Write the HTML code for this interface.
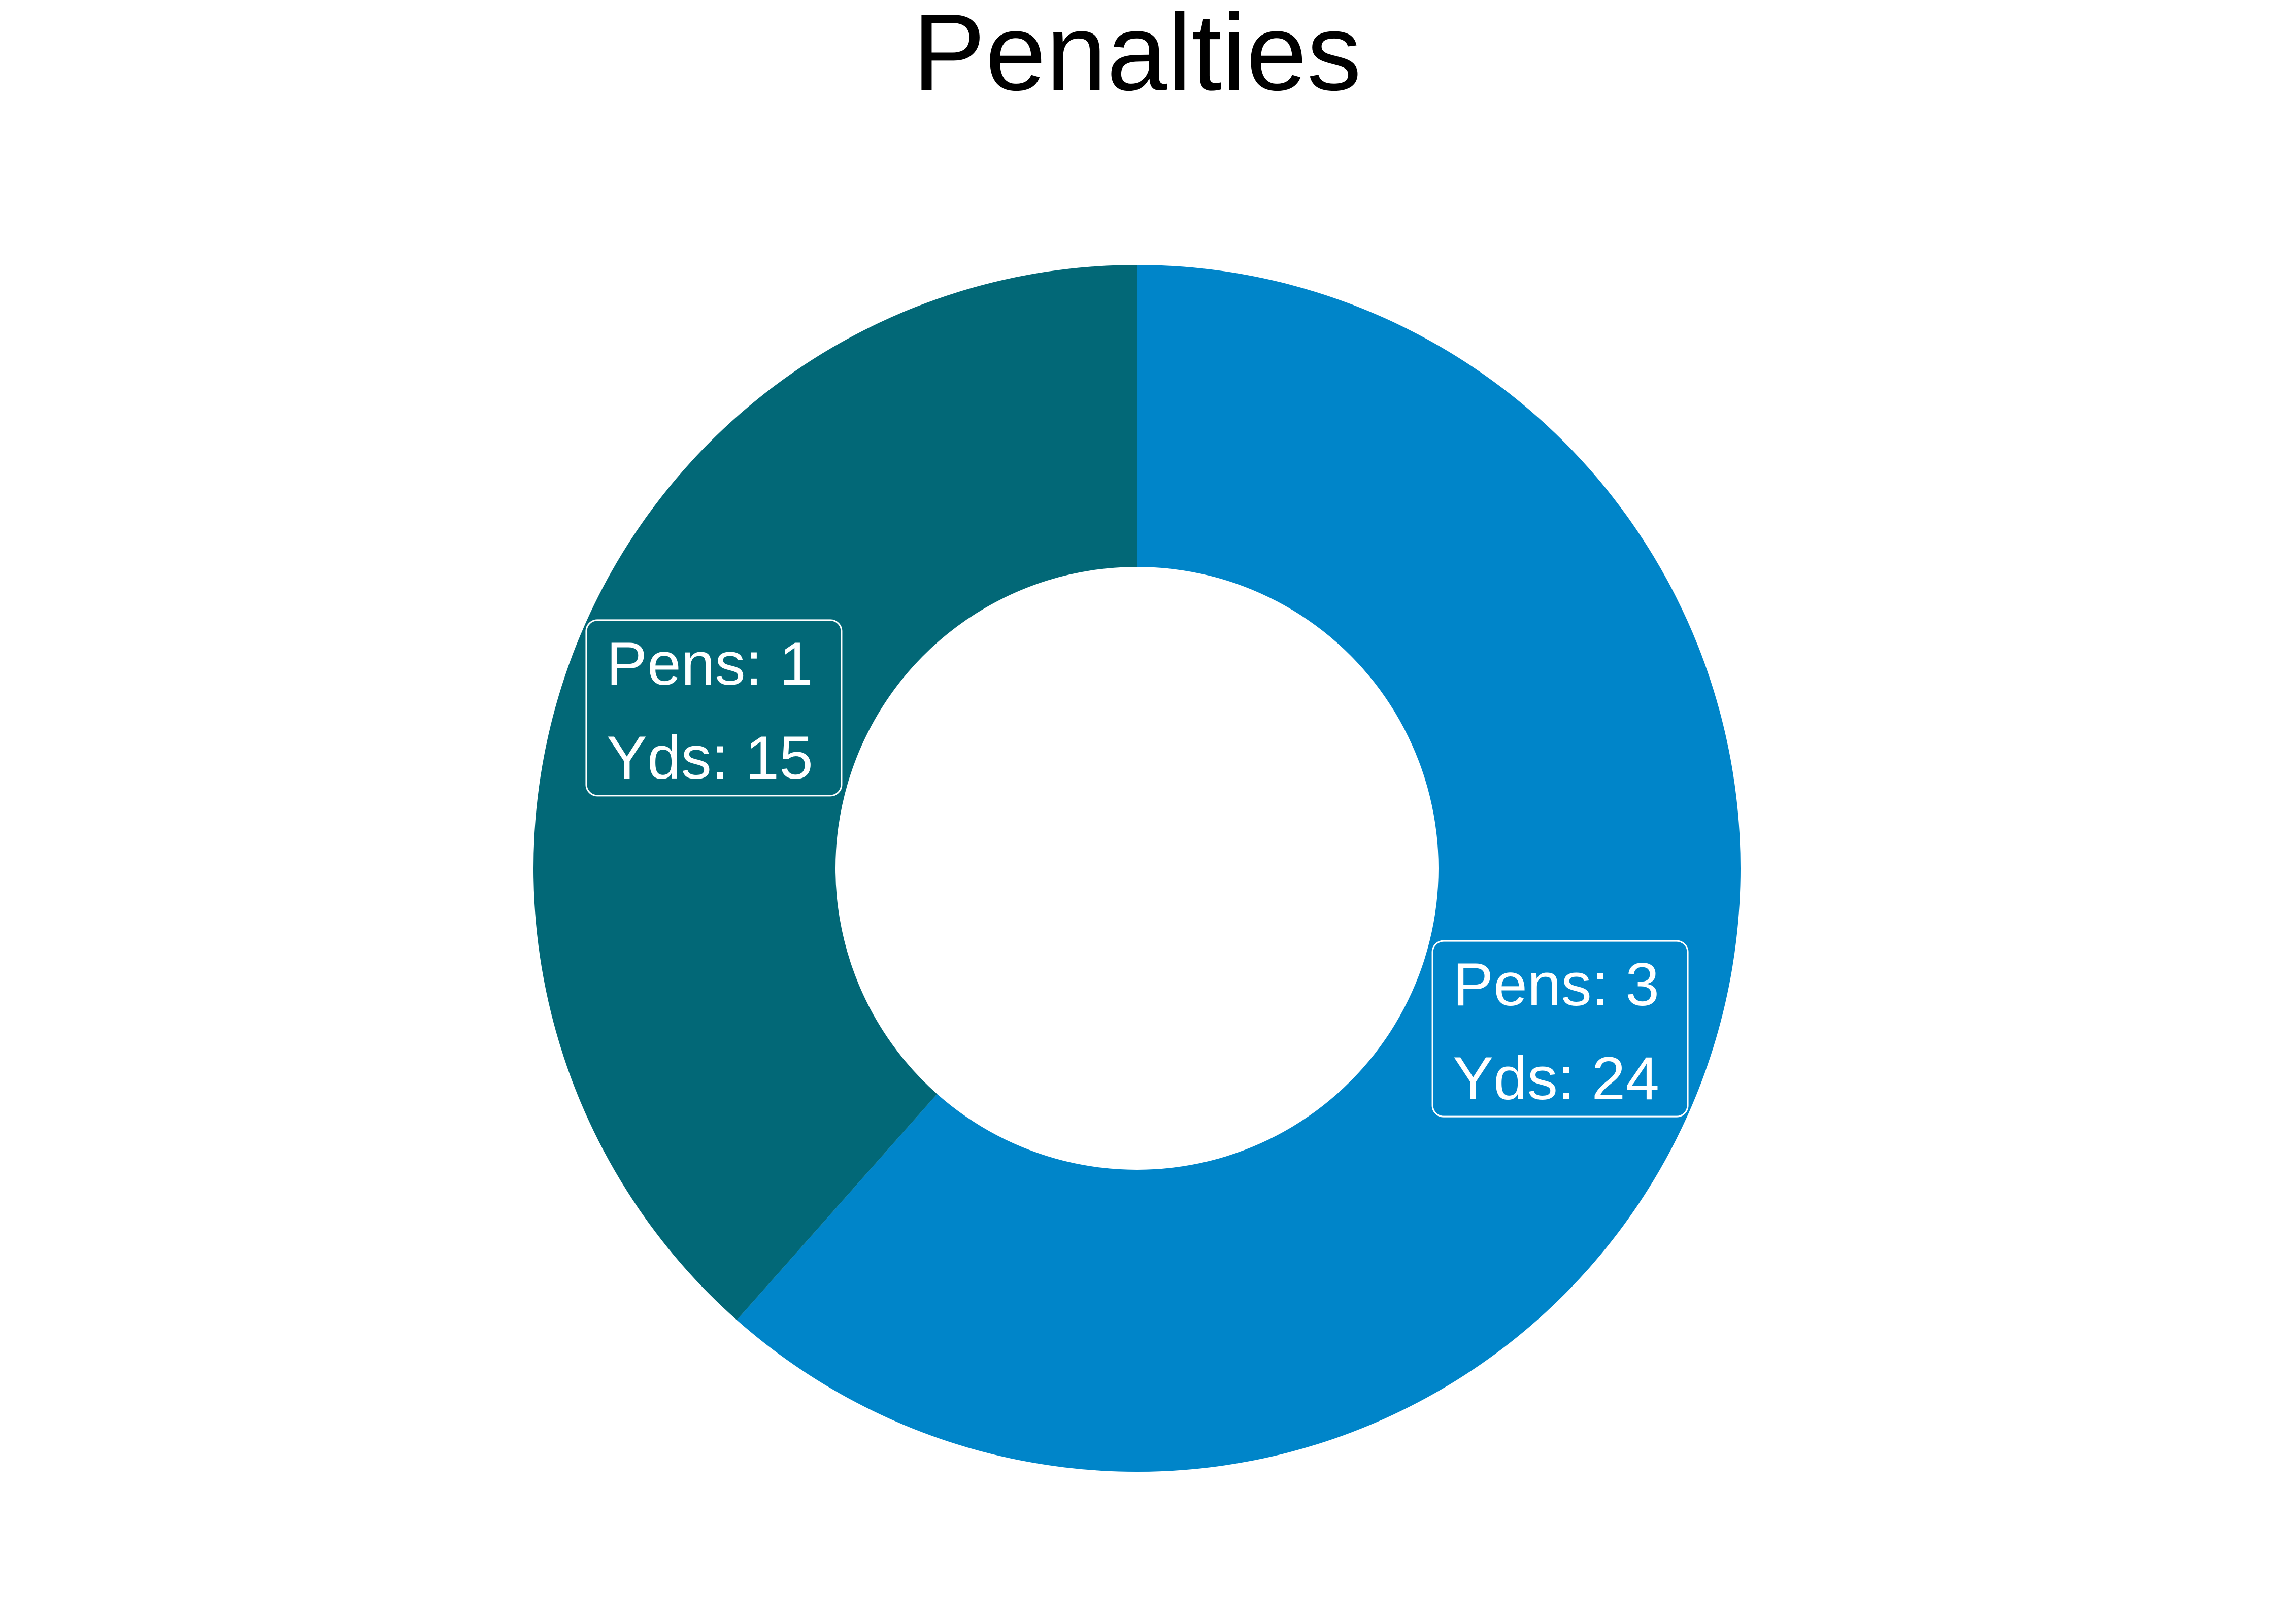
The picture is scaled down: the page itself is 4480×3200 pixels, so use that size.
<!DOCTYPE html>
<html><head><meta charset="utf-8">
<style>
html,body{margin:0;padding:0;background:#fff;}
svg{display:block;font-family:"Liberation Sans",sans-serif;}
</style></head>
<body>
<svg id="chart" width="4480" height="3200" viewBox="0 0 4480 3200" xmlns="http://www.w3.org/2000/svg">
<rect width="4480" height="3200" fill="#fff"/>
<text x="2240" y="177" text-anchor="middle" font-size="215" fill="#000">Penalties</text>
<g id="slices"></g>
<g id="labels"></g>
</svg>
<script>
const categories = ["Team A", "Team B"];
const pens = [3, 1];
const yards = [24, 15];
const colors = ["#0085C9", "#026877"];

const cx = 2240, cy = 1711, rOut = 1189, rIn = 594;
const NS = "http://www.w3.org/2000/svg";
const total = yards.reduce((a, b) => a + b, 0);
function pt(r, a) { return [cx + r * Math.sin(a), cy - r * Math.cos(a)]; }
const sg = document.getElementById("slices");
const lg = document.getElementById("labels");
let start = 0;
yards.forEach((v, i) => {
  const sweep = v / total * Math.PI * 2;
  const end = start + sweep;
  const large = sweep > Math.PI ? 1 : 0;
  const [x1, y1] = pt(rOut, start), [x2, y2] = pt(rOut, end);
  const [x3, y3] = pt(rIn, end), [x4, y4] = pt(rIn, start);
  const p = document.createElementNS(NS, "path");
  p.setAttribute("d", `M${x1},${y1} A${rOut},${rOut} 0 ${large} 1 ${x2},${y2} L${x3},${y3} A${rIn},${rIn} 0 ${large} 0 ${x4},${y4} Z`);
  p.setAttribute("fill", colors[i]);
  
  
  sg.appendChild(p);

  const mid = start + sweep / 2;
  const [lx, ly] = pt((rOut + rIn) / 2, mid);
  const w = 503, h = 346;
  const g = document.createElementNS(NS, "g");
  
  
  const r = document.createElementNS(NS, "rect");
  r.setAttribute("x", lx - w / 2); r.setAttribute("y", ly - h / 2);
  r.setAttribute("width", w); r.setAttribute("height", h);
  r.setAttribute("rx", 22); r.setAttribute("fill", colors[i]);
  r.setAttribute("stroke", "#fff"); r.setAttribute("stroke-width", 3);
  
  
  g.appendChild(r);
  const t1 = document.createElementNS(NS, "text");
  t1.setAttribute("x", lx - w / 2 + 40); t1.setAttribute("y", ly - h / 2 + 127);
  t1.setAttribute("font-size", "120"); t1.setAttribute("fill", "#fff");
  t1.textContent = "Pens: " + pens[i];
  
  
  g.appendChild(t1);
  const t2 = document.createElementNS(NS, "text");
  t2.setAttribute("x", lx - w / 2 + 40); t2.setAttribute("y", ly - h / 2 + 312);
  t2.setAttribute("font-size", "120"); t2.setAttribute("fill", "#fff");
  t2.textContent = "Yds: " + yards[i];
  
  
  g.appendChild(t2);
  lg.appendChild(g);
  start = end;
});
</script>
</body></html>
